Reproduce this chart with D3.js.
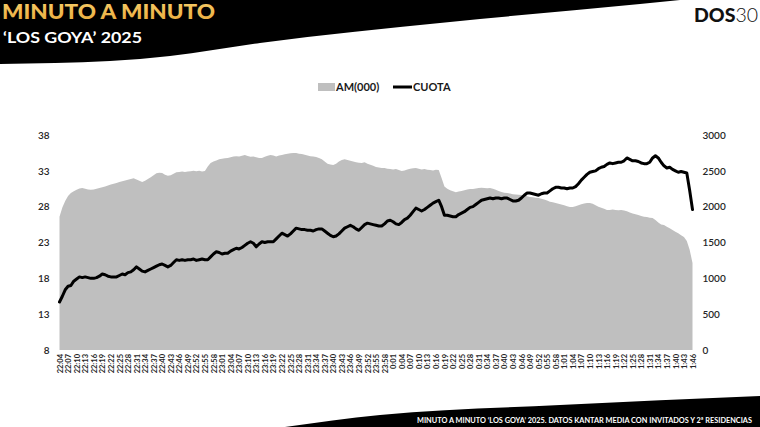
<!DOCTYPE html>
<html>
<head>
<meta charset="utf-8">
<script src="https://cdn.jsdelivr.net/npm/d3@7"></script>
<style>
  html, body { margin: 0; padding: 0; background: #fff; }
  svg { display: block; }
</style>
</head>
<body>
<svg id="chart" width="760" height="427"></svg>
<script>
// ---------- DATA ----------
const startMinute = "22:04";
const endMinute = "1:46";

const tickLabels = [
  "22:04","22:07","22:10","22:13","22:16","22:19","22:22","22:25","22:28","22:31","22:34","22:37","22:40","22:43","22:46","22:49","22:52","22:55","22:58",
  "23:01","23:04","23:07","23:10","23:13","23:16","23:19","23:22","23:25","23:28","23:31","23:34","23:37","23:40","23:43","23:46","23:49","23:52","23:55","23:58",
  "0:01","0:04","0:07","0:10","0:13","0:16","0:19","0:22","0:25","0:28","0:31","0:34","0:37","0:40","0:43","0:46","0:49","0:52","0:55","0:58",
  "1:01","1:04","1:07","1:10","1:13","1:16","1:19","1:22","1:25","1:28","1:31","1:34","1:37","1:40","1:43","1:46"
];

// AM(000) - audiencia media, miles (eje derecho)
const amValues = [
  1860,1990,2080,2150,2190,2215,2235,2255,2260,2250,
  2240,2235,2240,2250,2260,2270,2280,2295,2310,2320,
  2330,2345,2355,2365,2375,2386,2395,2380,2360,2344,
  2360,2385,2410,2440,2465,2475,2470,2445,2430,2440,
  2460,2480,2483,2490,2485,2490,2495,2500,2495,2500,
  2490,2497,2560,2609,2630,2645,2660,2670,2675,2679,
  2690,2700,2705,2700,2710,2720,2707,2695,2700,2690,
  2680,2679,2695,2710,2720,2715,2700,2715,2721,2730,
  2740,2745,2750,2749,2740,2735,2725,2715,2705,2700,
  2693,2680,2660,2630,2600,2590,2581,2600,2630,2651,
  2660,2650,2640,2630,2620,2612,2609,2620,2600,2585,
  2570,2555,2545,2539,2540,2530,2525,2520,2525,2510,
  2497,2505,2520,2530,2535,2539,2530,2520,2525,2515,
  2510,2505,2515,2511,2400,2280,2250,2230,2215,2200,
  2210,2220,2230,2240,2246,2246,2255,2260,2265,2262,
  2258,2260,2250,2235,2220,2205,2195,2190,2185,2175,
  2170,2165,2162,2155,2145,2135,2130,2125,2120,2110,
  2100,2085,2070,2060,2050,2040,2030,2020,2005,1995,
  1995,2005,2020,2035,2045,2050,2050,2040,2020,2000,
  1985,1970,1953,1955,1960,1955,1950,1953,1945,1935,
  1920,1905,1895,1883,1870,1860,1855,1845,1841,1815,
  1780,1750,1744,1720,1700,1674,1650,1630,1600,1576,
  1520,1400,1214
];

// CUOTA - share % (eje izquierdo)
const cuotaValues = [
  14.7,15.5,16.4,16.9,17.0,17.6,17.9,18.2,18.1,18.2,
  18.1,18.0,18.0,18.1,18.3,18.6,18.5,18.3,18.2,18.2,
  18.2,18.4,18.6,18.5,18.8,18.9,19.2,19.6,19.3,19.0,
  18.9,19.1,19.3,19.5,19.7,19.9,20.0,19.8,19.6,19.8,
  20.2,20.6,20.5,20.6,20.5,20.6,20.6,20.7,20.5,20.6,
  20.7,20.6,20.6,21.0,21.4,21.7,21.6,21.4,21.5,21.5,
  21.8,22.0,22.2,22.1,22.3,22.6,22.9,23.1,22.9,22.4,
  22.8,23.1,23.0,23.1,23.1,23.1,23.5,23.9,24.3,24.1,
  23.9,24.2,24.6,25.0,24.9,24.8,24.8,24.7,24.7,24.6,
  24.8,24.9,24.9,24.6,24.3,24.0,23.8,23.9,24.2,24.6,
  25.0,25.2,25.4,25.2,24.9,24.7,25.1,25.5,25.7,25.6,
  25.5,25.4,25.3,25.3,25.6,26.0,26.1,25.9,25.6,25.5,
  25.8,26.2,26.4,26.8,27.3,27.8,27.6,27.4,27.6,27.9,
  28.2,28.5,28.7,28.9,28.0,26.8,26.8,26.7,26.6,26.6,
  26.9,27.1,27.3,27.6,27.9,28.0,28.3,28.6,28.9,29.0,
  29.1,29.2,29.1,29.2,29.2,29.1,29.2,29.2,29.0,28.8,
  28.8,28.9,29.2,29.6,29.9,29.9,29.8,29.7,29.6,29.8,
  29.9,29.9,30.2,30.5,30.7,30.7,30.6,30.6,30.5,30.6,
  30.6,30.8,31.2,31.7,32.1,32.5,32.8,32.9,33.0,33.3,
  33.5,33.6,33.9,34.1,34.0,34.1,34.2,34.2,34.4,34.8,
  34.6,34.4,34.4,34.3,34.1,34.0,34.0,34.2,34.8,35.1,
  34.8,34.2,33.7,33.4,33.5,33.2,33.0,32.8,32.9,32.8,
  32.7,30.3,27.6
];

const leftTicks = [8, 13, 18, 23, 28, 33, 38];
const rightTicks = [0, 500, 1000, 1500, 2000, 2500, 3000];
const legendLabels = ["AM(000)", "CUOTA"];
const titleText = "MINUTO A MINUTO";
const subtitleText = "\u2018LOS GOYA\u2019 2025";
const footerText = "MINUTO A MINUTO \u2018LOS GOYA\u2019 2025. DATOS KANTAR MEDIA CON INVITADOS Y 2\u00AA RESIDENCIAS";

// minute categories from start to end
function toMin(s) { const [h, m] = s.split(":").map(Number); return (h < 12 ? h + 24 : h) * 60 + m; }
const minutes = d3.range(toMin(startMinute), toMin(endMinute) + 1).map(t => {
  const h = Math.floor(t / 60) % 24, m = t % 60;
  return h + ":" + String(m).padStart(2, "0");
});
const data = minutes.map((c, i) => ({ c, am: amValues[i], cuota: cuotaValues[i] }));

// ---------- DRAW ----------
const svg = d3.select("#chart");
const font = "Lato, 'Open Sans', sans-serif";

const plot = { left: 59.5, right: 692.5, top: 135, bottom: 350 };

const x = d3.scalePoint().domain(minutes).range([plot.left, plot.right]);
const yL = d3.scaleLinear().domain([8, 38]).range([plot.bottom, plot.top]);
const yR = d3.scaleLinear().domain([0, 3000]).range([plot.bottom, plot.top]);

// header black shape
svg.append("path")
  .attr("d", d3.line().curve(d3.curveMonotoneX)([[0,64],[110,61],[170,56],[260,43],[450,22],[640,4],[680,0]]) + "L680,0L0,0Z")
  .attr("fill", "#000");

// footer black shape
svg.append("path")
  .attr("d", "M285,427 " + d3.line().curve(d3.curveMonotoneX)([[285,427],[380,415],[560,405],[760,396]]).slice(1) + " L760,427 Z")
  .attr("fill", "#000");

// title
const goldGrad = svg.append("defs").append("linearGradient").attr("id", "gold").attr("x1", 0).attr("x2", 0).attr("y1", 0).attr("y2", 1);
goldGrad.append("stop").attr("offset", "0%").attr("stop-color", "#f7cf6c");
goldGrad.append("stop").attr("offset", "100%").attr("stop-color", "#e9a93a");

svg.append("text").attr("x", 2).attr("y", 19)
  .attr("font-family", font).attr("font-weight", 900).attr("font-size", 20.5)
  .attr("textLength", 213).attr("lengthAdjust", "spacingAndGlyphs")
  .attr("fill", "url(#gold)").text(titleText);

svg.append("text").attr("x", 3).attr("y", 43)
  .attr("font-family", font).attr("font-weight", 700).attr("font-size", 14.5)
  .attr("textLength", 139).attr("lengthAdjust", "spacingAndGlyphs")
  .attr("fill", "#fff").text(subtitleText);

// logo
const logo = svg.append("text").attr("x", 694).attr("y", 22)
  .attr("font-family", font).attr("font-size", 19.5).attr("fill", "#111");
logo.append("tspan").attr("font-weight", 900).text("DOS");
logo.append("tspan").attr("font-weight", 300).text("30");

// area (AM)
svg.append("path").datum(data)
  .attr("d", d3.area().x(d => x(d.c)).y0(yR(0)).y1(d => yR(d.am)))
  .attr("fill", "#bfbfbf");

// line (CUOTA)
svg.append("path").datum(data)
  .attr("d", d3.line().x(d => x(d.c)).y(d => yL(d.cuota)))
  .attr("fill", "none").attr("stroke", "#000").attr("stroke-width", 3)
  .attr("stroke-linejoin", "round").attr("stroke-linecap", "round");

// axes
const axL = svg.append("g").attr("transform", `translate(${plot.left},0)`)
  .call(d3.axisLeft(yL).tickValues(leftTicks).tickFormat(d3.format("d")).tickSize(0).tickPadding(10));
const axR = svg.append("g").attr("transform", `translate(${plot.right},0)`)
  .call(d3.axisRight(yR).tickValues(rightTicks).tickFormat(d3.format("d")).tickSize(0).tickPadding(10));
const axB = svg.append("g").attr("transform", `translate(0,${plot.bottom})`)
  .call(d3.axisBottom(x).tickValues(tickLabels).tickSize(0));

[axL, axR, axB].forEach(g => {
  g.select(".domain").remove();
  g.selectAll("text").attr("font-family", font).attr("fill", "#262626");
});
axL.selectAll("text").attr("font-size", 10).attr("font-weight", 600);
axR.selectAll("text").attr("font-size", 10).attr("font-weight", 600);
axB.selectAll("text")
  .attr("font-size", 7.5).attr("font-weight", 700)
  .attr("transform", "rotate(-90)")
  .attr("x", -4).attr("y", 0).attr("dy", "0.35em")
  .style("text-anchor", "end");

// legend
const lg = svg.append("g").attr("font-family", font).attr("font-weight", 700).attr("font-size", 11).attr("fill", "#1a1a1a");
lg.append("rect").attr("x", 318).attr("y", 83).attr("width", 17).attr("height", 8).attr("fill", "#bfbfbf");
lg.append("text").attr("x", 336).attr("y", 91).text(legendLabels[0]);
lg.append("line").attr("x1", 393).attr("x2", 412).attr("y1", 87).attr("y2", 87).attr("stroke", "#000").attr("stroke-width", 3);
lg.append("text").attr("x", 413).attr("y", 91).text(legendLabels[1]);

// footer text
svg.append("text").attr("x", 417).attr("y", 423)
  .attr("font-family", font).attr("font-weight", 700).attr("font-size", 7.5)
  .attr("textLength", 335).attr("lengthAdjust", "spacingAndGlyphs")
  .attr("fill", "#fff").text(footerText);
</script>
</body>
</html>
